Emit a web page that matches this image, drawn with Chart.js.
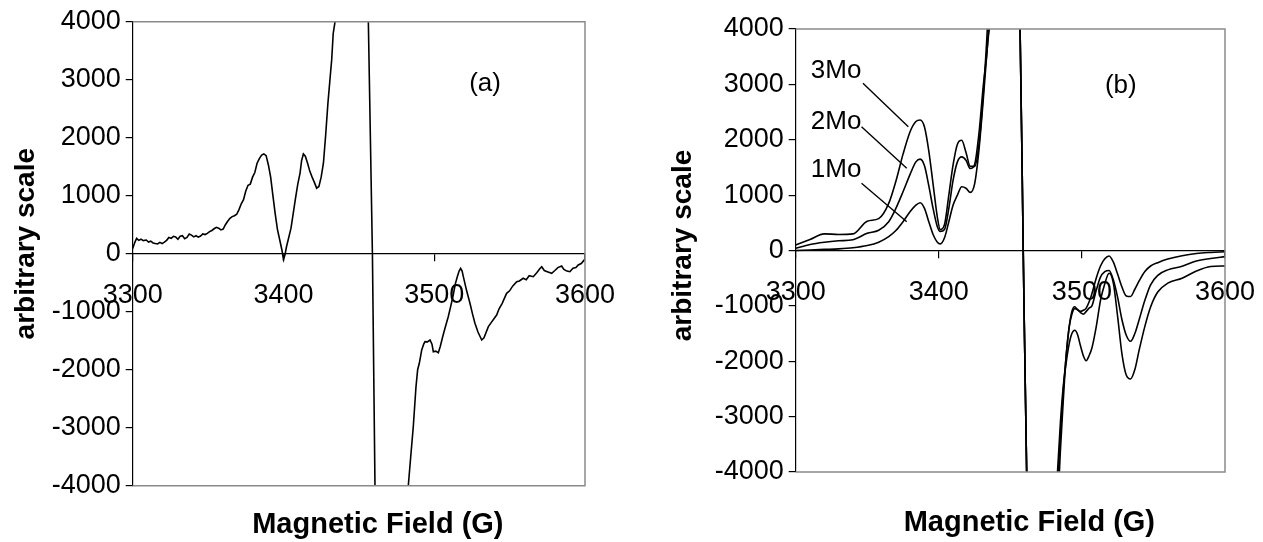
<!DOCTYPE html>
<html><head><meta charset="utf-8">
<script src="https://cdn.jsdelivr.net/npm/chart.js@4.4.1/dist/chart.umd.min.js"></script>
<style>
html,body{margin:0;padding:0;background:#fff;width:1263px;height:542px;overflow:hidden;}
canvas{position:absolute;top:0;}
#ca{left:0;width:632px;height:542px;}
#cb{left:632px;width:631px;height:542px;}
</style></head><body>
<canvas id="ca" width="632" height="542"></canvas>
<canvas id="cb" width="631" height="542"></canvas>
<script>
// ---------- panel (a) ----------
const fieldA = [3300,3301.5,3302.6,3304,3305.5,3307,3309,3310.5,3312,3313.5,3315,3316.5,3318,3319.5,3321,3322.5,3324,3325.5,3327,3328.5,3330,3331.5,3333,3334.5,3336,3337.5,3339,3340.5,3342,3343.5,3345,3346.5,3348,3349.5,3351,3352.5,3354,3355.5,3357,3358.5,3360,3361.5,3363,3364.5,3366,3367.5,3369,3370.5,3372,3373.5,3375,3376.5,3378,3379.5,3381,3382.5,3384,3385.5,3387,3388.5,3390,3391.5,3393,3394.5,3396,3397.5,3399,3400,3401,3402,3403.5,3405,3406.5,3408,3409.5,3411,3412,3413.2,3414.5,3416,3417.5,3419,3420.5,3422,3423.5,3425,3426.5,3428,3429.5,3431,3432,3433,3434.8,3440,3448,3456.3,3459,3460.7,3470,3478,3482.8,3484.4,3486.1,3487.9,3489,3490.1,3491.7,3493,3493.9,3495.5,3497.2,3498.5,3499.4,3501,3502.7,3504,3505.6,3507.5,3509.3,3511,3512.6,3514,3515.3,3516.5,3517.5,3518.5,3519.3,3521.5,3523.7,3525.5,3527,3529,3531.5,3533,3535.9,3538,3541.4,3543,3545,3548,3550,3552,3554.7,3556.5,3559,3561,3563,3565.7,3568,3570,3571.3,3573,3575,3577.9,3580,3582,3584.5,3586,3588,3590,3592,3594,3595.5,3597.5,3599.5,3600];
const signalA = [90,200,265,230,250,225,236,200,215,185,175,167,195,175,200,230,280,265,300,290,250,300,310,260,280,340,320,290,310,285,305,340,330,350,380,400,430,455,440,410,425,500,560,610,640,655,680,760,860,930,1080,1180,1200,1320,1400,1560,1640,1700,1720,1690,1530,1320,1000,690,420,240,60,-100,-20,120,280,440,700,960,1200,1390,1600,1720,1680,1560,1420,1320,1230,1130,1160,1320,1560,2050,2600,3050,3350,3800,4100,8000,9000,4000,0,-4000,-9000,-7000,-4000,-3500,-2983,-2293,-2000,-1890,-1660,-1560,-1517,-1520,-1488,-1560,-1690,-1680,-1707,-1600,-1431,-1250,-1086,-900,-712,-520,-396,-300,-252,-300,-396,-640,-855,-1050,-1200,-1350,-1488,-1450,-1258,-1180,-1057,-950,-860,-683,-640,-560,-483,-470,-424,-450,-380,-396,-330,-260,-224,-290,-310,-338,-290,-240,-212,-270,-300,-310,-250,-240,-195,-170,-108,-100];

// ---------- panel (b) ----------
const fieldB = [3300,3310,3320,3330,3340,3350,3358,3365,3370,3375,3380,3384,3387,3390,3393,3396,3399,3401,3404,3407,3410,3413,3416,3419,3422,3425,3428,3431,3434,3437,3445,3456.8,3459,3461.4,3470,3482.5,3485,3487,3489,3491,3493,3495,3497,3499,3501,3503,3505,3507,3510,3513,3516,3519,3522,3525,3528,3531,3534,3537,3540,3544,3548,3553,3560,3570,3580,3590,3600];
const mo3 = [100,200,300,290,300,530,575,850,1250,1740,2150,2330,2357,2230,1800,1200,600,380,470,1000,1550,1920,1990,1770,1520,1520,1900,2800,4050,6000,11000,4000,0,-4000,-11000,-4200,-3100,-2450,-2030,-1700,-1500,-1440,-1520,-1720,-1900,-1990,-1900,-1760,-1380,-900,-600,-412,-592,-1200,-1870,-2250,-2320,-2150,-1800,-1370,-1020,-750,-590,-500,-370,-290,-280];
const mo2 = [40,110,150,175,195,310,365,520,760,1060,1380,1600,1650,1530,1170,760,430,345,380,760,1270,1600,1690,1630,1480,1550,2100,2950,3700,5000,10000,4000,0,-4000,-10000,-4500,-3300,-2520,-1900,-1400,-1150,-1050,-1070,-1120,-1150,-1100,-1040,-1000,-720,-480,-382,-360,-533,-850,-1250,-1530,-1640,-1500,-1250,-900,-620,-450,-350,-285,-190,-145,-110];
const mo1 = [0,10,20,30,50,90,150,250,360,520,705,820,863,760,520,290,150,120,230,520,820,1000,1150,1125,1050,1200,1800,2700,3700,4500,9000,4000,0,-4000,-9000,-5000,-3600,-2700,-1900,-1400,-1100,-1015,-1070,-1100,-1080,-1040,-930,-780,-500,-280,-150,-99,-210,-430,-660,-820,-830,-700,-550,-380,-280,-220,-155,-95,-55,-35,-22];

// leader lines from labels to curves (panel b), in data units
const lead3X = [3347, 3378.7], lead3Y = [3020, 2236];
const lead2X = [3346, 3377.6], lead2Y = [2236, 1485];
const lead1X = [3346, 3377.6], lead1Y = [1214, 520];

// tick labels
const xTickValues = [3300, 3400, 3500, 3600];
const yTickValues = [-4000, -3000, -2000, -1000, 0, 1000, 2000, 3000, 4000];

// text annotations
const notesA = {text: ['(a)'], x: [3533.7], y: [2926]};
const notesB = {text: ['(b)', '3Mo', '2Mo', '1Mo'], x: [3527.2, 3328.2, 3328.2, 3328.2], y: [2976, 3242, 2321, 1454]};

const pts = (xs, ys) => xs.map((x, i) => ({x: x, y: ys[i]}));

Chart.defaults.font.family = "'Liberation Sans', Arial, sans-serif";
Chart.defaults.color = '#000';

const framePlugin = {
  id: 'frame',
  afterDatasetsDraw(chart) {
    const {ctx, chartArea: a} = chart;
    ctx.save();
    ctx.strokeStyle = '#8a8a8a';
    ctx.lineWidth = 1.5;
    ctx.beginPath();
    ctx.moveTo(a.left, a.top);
    ctx.lineTo(a.right, a.top);
    ctx.lineTo(a.right, a.bottom);
    ctx.lineTo(a.left, a.bottom);
    ctx.stroke();
    ctx.restore();
  }
};
const notesPlugin = {
  id: 'notes',
  afterDatasetsDraw(chart, args, opts) {
    const {ctx} = chart;
    const xs = chart.scales.x, ys = chart.scales.y;
    ctx.save();
    ctx.font = "26px 'Liberation Sans', Arial, sans-serif";
    ctx.fillStyle = '#000';
    ctx.textAlign = 'center';
    ctx.textBaseline = 'middle';
    for (let i = 0; i < opts.text.length; i++) {
      ctx.fillText(opts.text[i], xs.getPixelForValue(opts.x[i]), ys.getPixelForValue(opts.y[i]));
    }
    ctx.restore();
  }
};
// nudges the title-only axes (x2 / y2) like the original's title placement
const titleNudge = {
  id: 'titleNudge',
  afterLayout(chart, args, opts) {
    const sx = chart.scales.x2, sy = chart.scales.y2;
    sx.left += opts.dx; sx.right += opts.dx;
    sy.top += opts.dy; sy.bottom += opts.dy;
  }
};

function makeOptions(p) {
  return {
    responsive: false,
    animation: false,
    events: [],
    layout: {padding: {left: 0, top: p.top, right: p.right, bottom: 0}},
    plugins: {legend: {display: false}, tooltip: {enabled: false}, notes: p.notes, titleNudge: {dx: p.dx, dy: p.dy}},
    scales: {
      x: {
        type: 'linear', position: {y: 0}, min: 3300, max: 3600,
        afterBuildTicks: s => { s.ticks = xTickValues.map(v => ({value: v})); },
        afterFit: s => { s.height = 0; s.paddingLeft = 0; s.paddingRight = 0; },
        grid: {drawOnChartArea: false, drawTicks: true, tickLength: 7, color: '#000', lineWidth: 1.2},
        border: {display: true, color: '#000', width: 1.2},
        ticks: {font: {size: 27}, padding: 19, maxRotation: 0, autoSkip: false, callback: v => String(v)}
      },
      x2: {
        type: 'linear', position: 'bottom', min: 3300, max: 3600,
        grid: {display: false}, border: {display: false}, ticks: {display: false},
        afterFit: s => { s.height = p.bottomBand; s.paddingLeft = 0; s.paddingRight = 0; },
        title: {display: true, text: 'Magnetic Field (G)', font: {size: 29, weight: 'bold'}, padding: {top: 0, bottom: p.xTitlePad}}
      },
      y: {
        type: 'linear', position: 'left', weight: 0, min: -4000, max: 4000,
        afterBuildTicks: s => { s.ticks = yTickValues.map(v => ({value: v})); },
        afterFit: s => { s.width = p.yWidth; },
        grid: {drawOnChartArea: false, drawTicks: true, tickLength: 7, color: '#000', lineWidth: 1.2},
        border: {display: true, color: '#000', width: 1.2},
        ticks: {font: {size: 27}, padding: 5, callback: v => String(v)}
      },
      y2: {
        type: 'linear', position: 'left', weight: 1, min: -4000, max: 4000,
        grid: {display: false}, border: {display: false}, ticks: {display: false},
        afterFit: s => { s.width = p.titleBand; },
        title: {display: true, text: 'arbitrary scale', font: {size: 28, weight: 'bold'}, padding: {top: p.yTitlePad, bottom: 0}}
      }
    }
  };
}

const lineStyle = {showLine: true, pointRadius: 0, borderColor: '#000', borderWidth: 1.6, fill: false};

new Chart(document.getElementById('ca'), {
  type: 'scatter',
  data: {datasets: [
    Object.assign({label: 'signal', data: pts(fieldA, signalA), tension: 0}, lineStyle)
  ]},
  options: makeOptions({top: 21.7, right: 47, titleBand: 44, yWidth: 88.7, bottomBand: 56.3, xTitlePad: 0, yTitlePad: 9.2, dx: 19, dy: -10, notes: notesA}),
  plugins: [framePlugin, notesPlugin, titleNudge]
});

new Chart(document.getElementById('cb'), {
  type: 'scatter',
  data: {datasets: [
    Object.assign({label: '3Mo', data: pts(fieldB, mo3), cubicInterpolationMode: 'monotone'}, lineStyle),
    Object.assign({label: '2Mo', data: pts(fieldB, mo2), cubicInterpolationMode: 'monotone'}, lineStyle),
    Object.assign({label: '1Mo', data: pts(fieldB, mo1), cubicInterpolationMode: 'monotone'}, lineStyle),
    Object.assign({label: 'lead3', data: pts(lead3X, lead3Y)}, lineStyle, {borderWidth: 1.4}),
    Object.assign({label: 'lead2', data: pts(lead2X, lead2Y)}, lineStyle, {borderWidth: 1.4}),
    Object.assign({label: 'lead1', data: pts(lead1X, lead1Y)}, lineStyle, {borderWidth: 1.4})
  ]},
  options: makeOptions({top: 29, right: 38, titleBand: 80, yWidth: 83.7, bottomBand: 70, xTitlePad: 2, yTitlePad: 34.2, dx: 19, dy: -5, notes: notesB}),
  plugins: [framePlugin, notesPlugin, titleNudge]
});
</script>
</body></html>
